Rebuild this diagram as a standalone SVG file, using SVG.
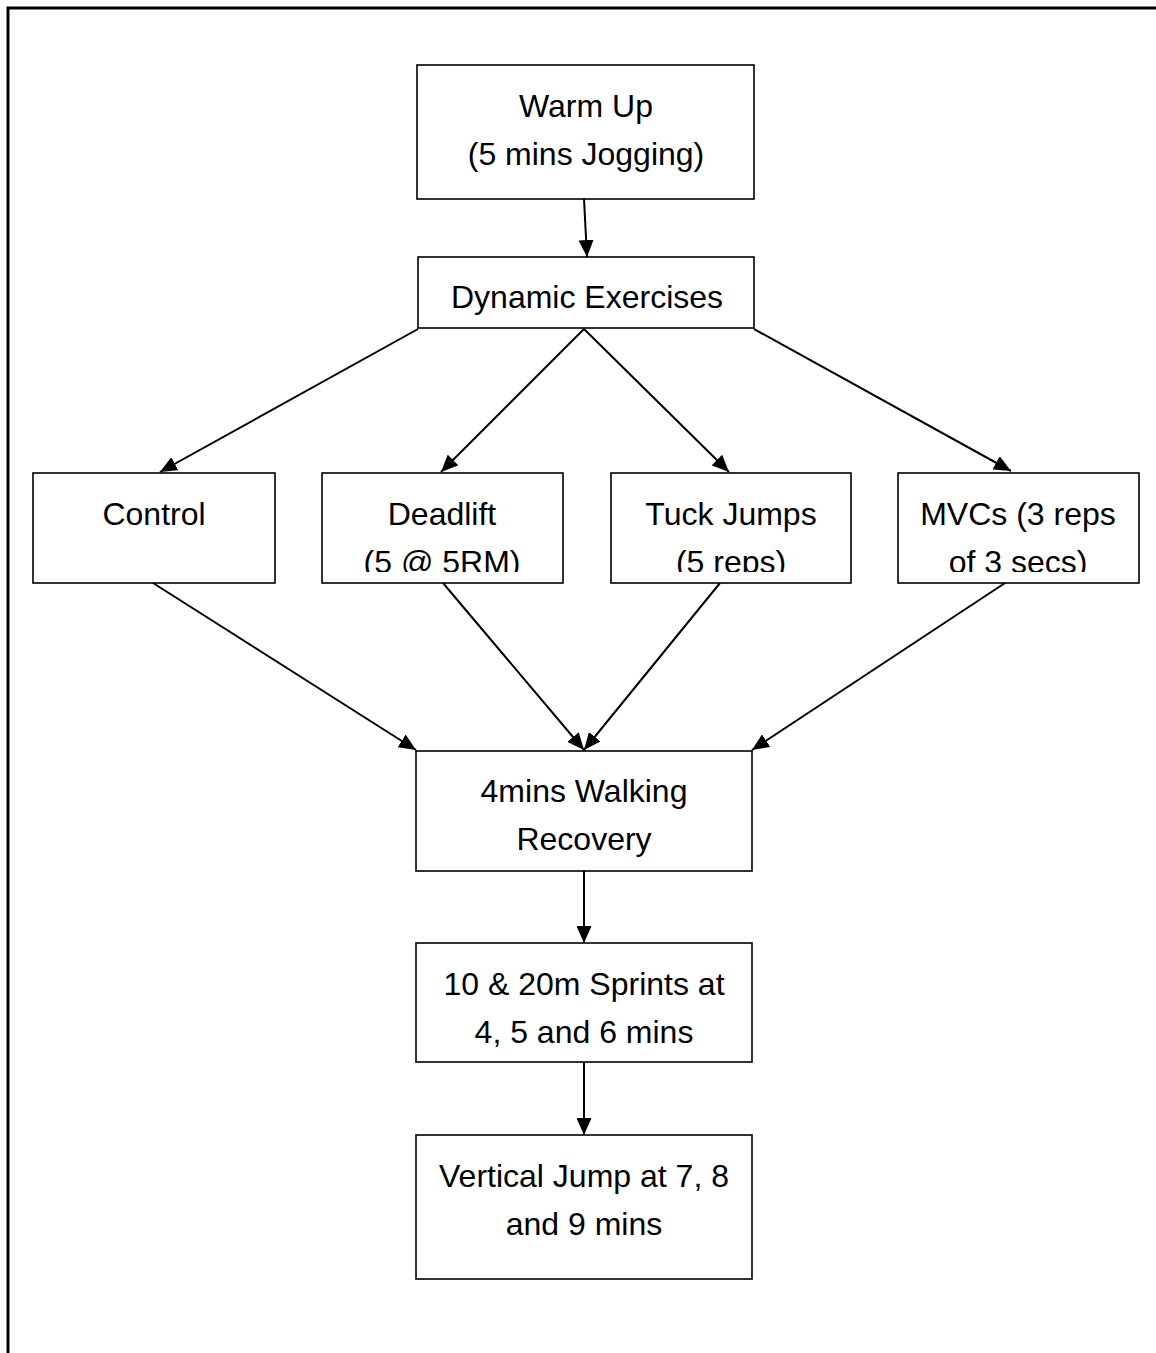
<svg xmlns="http://www.w3.org/2000/svg" width="1156" height="1353" viewBox="0 0 1156 1353">
<style>
.box{fill:#fff;stroke:#000;stroke-width:1.6}
.t{font-family:"Liberation Sans",Arial,sans-serif;font-size:32px;fill:#000;text-anchor:middle}
.c{stroke:#000;stroke-width:2;fill:none;marker-end:url(#ah)}
</style>
<defs>
<marker id="ah" markerWidth="17" markerHeight="15" refX="17" refY="7.5" orient="auto" markerUnits="userSpaceOnUse">
<path d="M0,0 L17,7.5 L0,15 Z" fill="#000"/>
</marker>
<clipPath id="clipRow"><rect x="0" y="474" width="1156" height="98"/></clipPath>
</defs>
<rect width="1156" height="1353" fill="#fff"/>
<path d="M8,1353 V8 H1156" fill="none" stroke="#000" stroke-width="3"/>
<g id="connectors">
<line class="c" x1="584" y1="199" x2="587" y2="257"/>
<line class="c" x1="418" y1="329" x2="160" y2="472"/>
<line class="c" x1="584" y1="329" x2="441" y2="472"/>
<line class="c" x1="584" y1="329" x2="729" y2="472"/>
<line class="c" x1="754" y1="329" x2="1011" y2="471"/>
<line class="c" x1="153" y1="583" x2="416" y2="750"/>
<line class="c" x1="443" y1="583" x2="584" y2="750"/>
<line class="c" x1="720" y1="583" x2="584" y2="750"/>
<line class="c" x1="1005" y1="583" x2="752" y2="750"/>
<line class="c" x1="584" y1="871" x2="584" y2="943"/>
<line class="c" x1="584" y1="1062" x2="584" y2="1135"/>
</g>
<g id="warmup">
<rect class="box" x="417" y="65" width="337" height="134"/>
<text class="t" x="586" y="117">Warm Up</text>
<text class="t" x="586" y="165">(5 mins Jogging)</text>
</g>
<g id="dynamic">
<rect class="box" x="418" y="257" width="336" height="71"/>
<text class="t" x="587" y="308">Dynamic Exercises</text>
</g>
<g id="control">
<rect class="box" x="33" y="473" width="242" height="110"/>
<text class="t" x="154" y="525">Control</text>
</g>
<g id="deadlift">
<rect class="box" x="322" y="473" width="241" height="110"/>
<g clip-path="url(#clipRow)">
<text class="t" x="442" y="525">Deadlift</text>
<text class="t" x="442" y="573">(5 @ 5RM)</text>
</g>
</g>
<g id="tuckjumps">
<rect class="box" x="611" y="473" width="240" height="110"/>
<g clip-path="url(#clipRow)">
<text class="t" x="731" y="525">Tuck Jumps</text>
<text class="t" x="731" y="573">(5 reps)</text>
</g>
</g>
<g id="mvcs">
<rect class="box" x="898" y="473" width="241" height="110"/>
<g clip-path="url(#clipRow)">
<text class="t" x="1018" y="525">MVCs (3 reps</text>
<text class="t" x="1018" y="573">of 3 secs)</text>
</g>
</g>
<g id="recovery">
<rect class="box" x="416" y="751" width="336" height="120"/>
<text class="t" x="584" y="802">4mins Walking</text>
<text class="t" x="584" y="850">Recovery</text>
</g>
<g id="sprints">
<rect class="box" x="416" y="943" width="336" height="119"/>
<text class="t" x="584" y="995">10 &amp; 20m Sprints at</text>
<text class="t" x="584" y="1043">4, 5 and 6 mins</text>
</g>
<g id="vertical">
<rect class="box" x="416" y="1135" width="336" height="144"/>
<text class="t" x="584" y="1187">Vertical Jump at 7, 8</text>
<text class="t" x="584" y="1235">and 9 mins</text>
</g>
</svg>
